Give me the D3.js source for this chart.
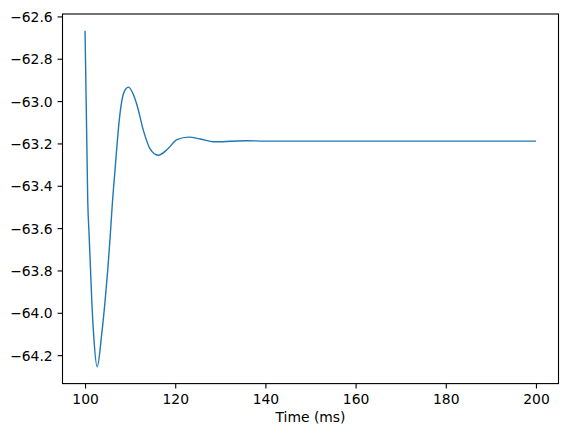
<!DOCTYPE html>
<html>
<head>
<meta charset="utf-8">
<script src="https://cdn.jsdelivr.net/npm/d3@7"></script>
<style>
    body { margin: 0; background: #fff; }
    text { font-family: "DejaVu Sans", sans-serif; }
</style>
</head>
<body>
<div id="plot-area"><svg></svg></div>
<script>

// time points (ms)
const timeMs = [
    100, 100.3, 100.6, 100.9, 101.2, 101.5, 101.9, 102.7, 103.69, 104.44,
    105.07, 105.6, 106.09, 106.44, 106.8, 107.16, 107.56, 108.13, 108.73, 109.65,
    110.73, 111.5, 113.0, 114.4, 116.2, 118.2, 120.4, 123.0, 125.6, 128.5,
    132.2, 135.9, 139.6, 150, 160, 170, 180, 190, 200
];

// membrane potential (mV)
const voltage = [
    -62.668, -63.070, -63.473, -63.631, -63.788, -63.945, -64.102, -64.255, -64.102, -63.945,
    -63.788, -63.631, -63.473, -63.379, -63.285, -63.190, -63.096, -63.002, -62.954, -62.934,
    -62.970, -63.017, -63.143, -63.225, -63.256, -63.229, -63.182, -63.170, -63.179, -63.192,
    -63.190, -63.187, -63.189, -63.189, -63.189, -63.189, -63.189, -63.189, -63.189
];

const xTicks = [100, 120, 140, 160, 180, 200];
const yTicks = [-62.6, -62.8, -63.0, -63.2, -63.4, -63.6, -63.8, -64.0, -64.2];

const blue = '#1f77b4';

// viewport
let margin = {top: 14, right: 9.5, bottom: 52.4, left: 62.5},
    width = 568 - margin.left - margin.right,
    height = 436 - margin.top - margin.bottom;

const data = timeMs.map(function (t, i) {
    return {xValue: t, yValue: voltage[i]};
});

// 5% padding like matplotlib
let xExt = d3.extent(data, function (d) { return d.xValue; });
let yExt = d3.extent(data, function (d) { return d.yValue; });
let xPad = (xExt[1] - xExt[0]) * 0.05;
let yPad = (yExt[1] - yExt[0]) * 0.05;

let x = d3.scaleLinear().domain([xExt[0] - xPad, xExt[1] + xPad]).range([0, width]);
let y = d3.scaleLinear().domain([yExt[0] - yPad, yExt[1] + yPad]).range([height, 0]);

const valueline = d3.line()
    .x(function (d) { return x(d.xValue); })
    .y(function (d) { return y(d.yValue); })
    .curve(d3.curveMonotoneX);

let svg = d3.select('#plot-area').select('svg')
    .attr('width', 568)
    .attr('height', 436);

let g = svg.append('g')
    .attr('transform', 'translate(' + margin.left + ',' + margin.top + ')');

g.append('path')
    .datum(data)
    .attr('fill', 'none')
    .style('stroke', blue)
    .style('stroke-width', 1.4)
    .attr('d', valueline);

// X Axis
let xAxis = g.append('g')
    .attr('class', 'xaxis')
    .attr('transform', 'translate(0,' + height + ')')
    .call(d3.axisBottom(x)
        .tickValues(xTicks)
        .tickSize(4.9)
        .tickPadding(4.9)
        .tickFormat(d3.format('d')));

// Y Axis
let yAxis = g.append('g')
    .attr('class', 'yaxis')
    .call(d3.axisLeft(y)
        .tickValues(yTicks)
        .tickSize(4.9)
        .tickPadding(4.9)
        .tickFormat(d3.format('.1f')));

[xAxis, yAxis].forEach(function (ax) {
    ax.select('.domain').remove();
    ax.selectAll('.tick line').attr('stroke', '#000').attr('stroke-width', 1.1);
    ax.selectAll('.tick text')
        .attr('fill', '#000')
        .attr('font-family', 'DejaVu Sans, sans-serif')
        .attr('font-size', '13.9px');
});
xAxis.selectAll('.tick text').attr('dy', '0.75em');
yAxis.selectAll('.tick text').attr('dy', '0.36em');

// frame
g.append('rect')
    .attr('x', 0)
    .attr('y', 0)
    .attr('width', width)
    .attr('height', height)
    .attr('fill', 'none')
    .attr('stroke', '#000')
    .attr('stroke-width', 1.1);

// Labelling
g.append('text')
    .attr('x', width / 2)
    .attr('y', height + 38.5)
    .attr('text-anchor', 'middle')
    .attr('font-size', '13.9px')
    .attr('fill', '#000')
    .text('Time (ms)');

</script>
</body>
</html>
